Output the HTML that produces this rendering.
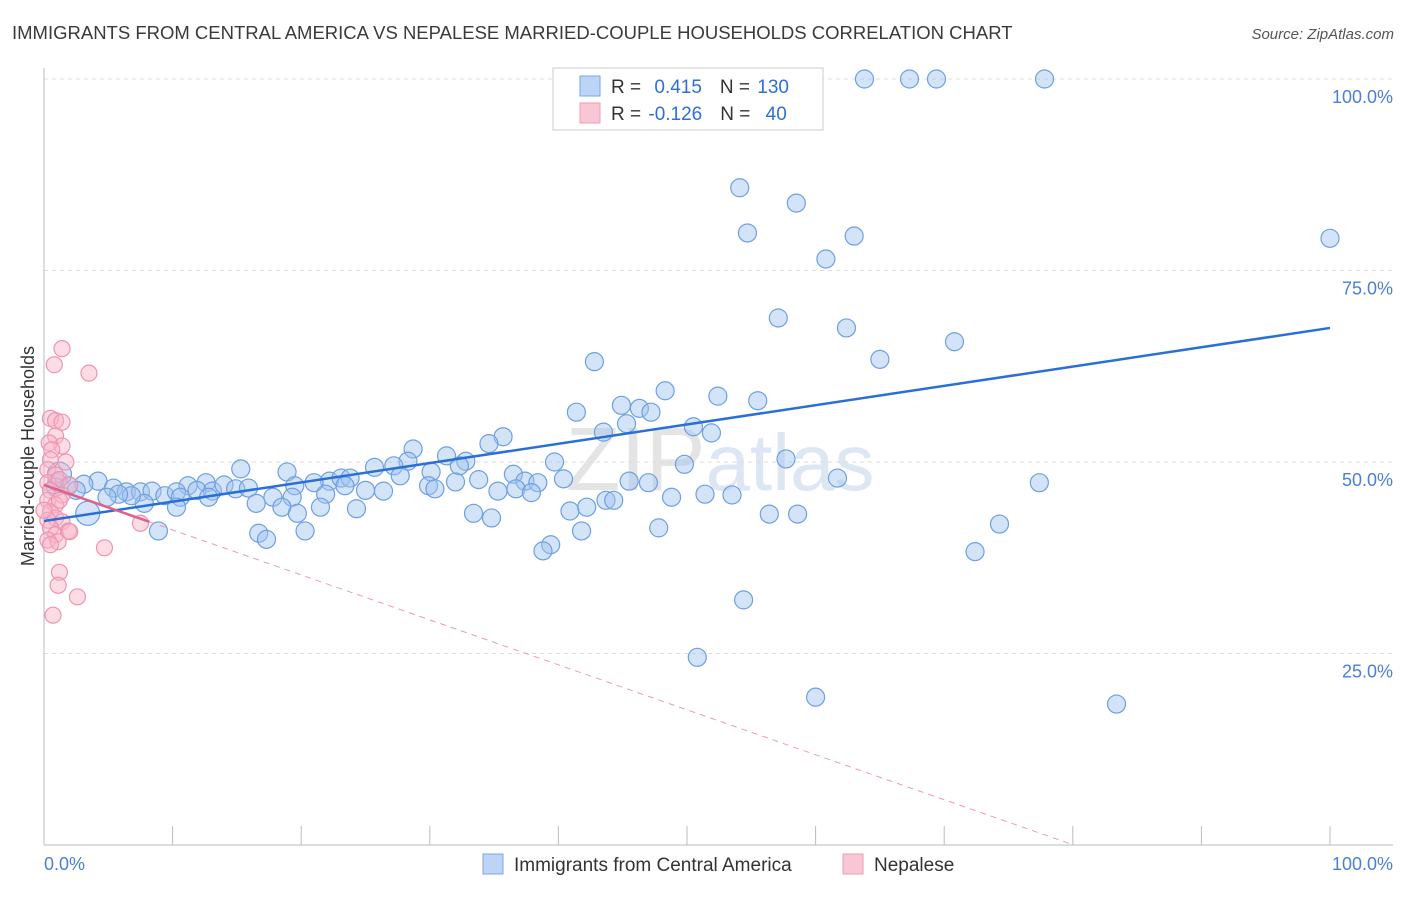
<!DOCTYPE html>
<html><head><meta charset="utf-8"><style>
body{margin:0;background:#fff;font-family:"Liberation Sans",sans-serif}
svg text{font-family:"Liberation Sans",sans-serif}
</style></head><body>
<svg id="chart" width="1406" height="892" viewBox="0 0 1406 892">
<text x="12" y="39" font-size="18.5" fill="#3a3a3a">IMMIGRANTS FROM CENTRAL AMERICA VS NEPALESE MARRIED-COUPLE HOUSEHOLDS CORRELATION CHART</text>
<text x="1394" y="39" font-size="15" fill="#555" font-style="italic" text-anchor="end">Source: ZipAtlas.com</text>
<text x="720" y="490" font-size="90" fill="#e4e4e4" text-anchor="middle" font-family="Liberation Serif">ZIP<tspan fill="#dde6f3" font-family="Liberation Sans" font-size="80">atlas</tspan></text>
<g id="grid"></g>
<g id="axes"></g>
<g id="pts"></g>
<g id="trend"></g>
<text transform="translate(34,456) rotate(-90)" font-size="18" fill="#333" text-anchor="middle">Married-couple Households</text>
<g>
<rect x="553" y="68" width="270" height="62" fill="#fff" stroke="#ccc"/>
<rect x="580" y="76" width="20" height="20" fill="#bcd4f6" stroke="#7aa6e8"/>
<rect x="580" y="103" width="20" height="20" fill="#f9c6d5" stroke="#ee9bb5"/>
<text x="611" y="93" font-size="19" fill="#333">R = <tspan fill="#2e6fd8" dx="8">0.415</tspan><tspan dx="18" fill="#333">N = </tspan><tspan fill="#2e6fd8" dx="2">130</tspan></text>
<text x="611" y="120" font-size="19" fill="#333">R = <tspan fill="#2e6fd8" dx="2">-0.126</tspan><tspan dx="18" fill="#333">N = </tspan><tspan fill="#2e6fd8" dx="10">40</tspan></text>
</g>
<g>
<rect x="483" y="854" width="20" height="20" fill="#bcd4f6" stroke="#7aa6e8"/>
<text x="514" y="871" font-size="19" fill="#333">Immigrants from Central America</text>
<rect x="843" y="854" width="20" height="20" fill="#f9c6d5" stroke="#ee9bb5"/>
<text x="874" y="871" font-size="19" fill="#333">Nepalese</text>
</g>
</svg>
<script>
const blueX=[63.8,67.3,69.4,77.8,54.1,58.5,54.7,63.0,60.8,100,57.1,62.4,70.8,65.0,42.8,48.3,52.4,55.5,41.4,44.9,46.3,47.2,45.3,43.5,50.5,51.9,35.7,34.6,28.7,31.3,28.3,32.8,39.7,57.7,49.8,32.3,15.3,18.9,25.7,27.2,30.1,36.5,37.4,38.4,45.5,47.0,61.7,77.4,33.8,27.7,22.2,23.1,23.8,23.4,21.0,19.5,25.0,26.4,29.9,30.4,32.0,36.7,35.3,37.9,40.4,12.6,11.2,4.2,3.1,1.9,1.0,1.2,0.9,2.5,5.4,6.4,7.5,8.4,9.4,10.3,11.9,13.1,14.0,14.9,15.9,16.5,17.8,19.3,21.9,12.8,10.6,7.8,6.8,5.8,4.9,3.4,10.3,18.5,19.7,21.5,24.3,33.4,34.8,40.9,42.2,43.7,44.3,48.8,51.4,53.5,56.4,58.6,8.9,16.7,17.3,20.3,41.8,47.8,39.4,38.8,74.3,72.4,54.4,50.8,60.0,83.4];
const blueY=[100,100,100,100,85.8,83.8,79.9,79.5,76.5,79.2,68.8,67.5,65.7,63.4,63.1,59.3,58.6,58.0,56.5,57.4,57.0,56.5,55.0,53.9,54.6,53.8,53.3,52.4,51.7,50.8,50.1,50.1,50.0,50.4,49.7,49.5,49.1,48.7,49.3,49.5,48.7,48.4,47.5,47.3,47.5,47.3,47.9,47.3,47.7,48.2,47.5,47.9,47.9,46.9,47.3,46.9,46.3,46.2,46.9,46.5,47.4,46.5,46.2,46.0,47.8,47.3,46.9,47.5,47.1,46.9,47.4,48.4,46.7,46.3,46.6,46.1,46.1,46.2,45.6,46.1,46.3,46.2,47.0,46.5,46.6,44.6,45.4,45.4,45.8,45.4,45.4,44.6,45.6,45.8,45.4,43.3,44.1,44.1,43.3,44.1,43.9,43.3,42.7,43.6,44.1,45.0,45.0,45.4,45.8,45.7,43.2,43.2,41.0,40.7,39.9,41.0,41.0,41.4,39.2,38.4,41.9,38.3,32.0,24.5,19.3,18.4];
const pinkX=[1.4,0.8,3.5,0.5,0.9,1.4,0.9,1.4,0.4,0.6,0.5,1.7,0.3,0.9,0.3,1.2,2.0,0.5,1.4,0.3,0.9,0.5,0.9,0.3,1.4,0.5,0.9,1.9,0.3,1.1,4.7,7.5,1.2,1.1,2.6,0.7,0.5,1.2,0.0,2.0];
const pinkY=[64.8,62.7,61.6,55.7,55.4,55.2,53.4,52.1,52.5,51.6,50.3,50.0,49.0,48.3,47.3,47.7,47.0,46.3,45.7,45.0,44.4,43.5,42.7,42.4,42.2,41.4,40.5,41.0,39.8,39.6,38.8,42.0,35.6,33.9,32.4,30.0,39.2,45.0,43.7,40.9];
const blueTrend=[42.3,67.5];
const pinkTrend=[47.0,-0.587];
const yTicks=[25,50,75,100];
const xTickVals=[0,10,20,30,40,50,60,70,80,90,100];

const NS="http://www.w3.org/2000/svg";
const X=v=>44+v*12.86, Y=v=>845-v*7.66;
function mk(tag,attrs,parent){const e=document.createElementNS(NS,tag);for(const k in attrs)e.setAttribute(k,attrs[k]);parent.appendChild(e);return e;}
const grid=document.getElementById('grid'),axes=document.getElementById('axes'),pts=document.getElementById('pts'),tr=document.getElementById('trend');
yTicks.forEach(t=>{
  const l=mk('line',{x1:44,x2:1393,y1:Y(t),y2:Y(t),stroke:'#ddd','stroke-dasharray':'4,4'},grid);
  
  
  const tx=mk('text',{x:1393,y:Y(t)+24,'font-size':18,fill:'#4a7fd6','text-anchor':'end'},grid);
  tx.textContent=t.toFixed(1)+'%';
  
  
});
const ya=mk('line',{x1:44,x2:44,y1:68,y2:845,stroke:'#bbb'},axes);


const xa=mk('line',{x1:44,x2:1393,y1:845,y2:845,stroke:'#bbb'},axes);


xTickVals.forEach(t=>{
  const l=mk('line',{x1:X(t),x2:X(t),y1:826,y2:845,stroke:'#bbb'},axes);
  
  
});
[[0,'start',44],[100,'end',1393]].forEach(([v,a,px])=>{
  const tx=mk('text',{x:px,y:870,'font-size':18,fill:'#4a7fd6','text-anchor':a},axes);
  tx.textContent=v.toFixed(1)+'%';
  
  
});
blueX.forEach((v,i)=>{
  const c=mk('circle',{cx:X(v),cy:Y(blueY[i]),r:(i==95||i==71)?12:9,fill:'rgba(160,195,240,0.45)',stroke:'#6d9fe3','stroke-width':1.2},pts);
  
  
});
pinkX.forEach((v,i)=>{
  const c=mk('circle',{cx:X(v),cy:Y(pinkY[i]),r:8,fill:'rgba(248,180,200,0.45)',stroke:'#ef94b0','stroke-width':1.2},pts);
  
  
});
const bl=mk('line',{x1:X(0),y1:Y(blueTrend[0]),x2:X(100),y2:Y(blueTrend[1]),stroke:'#2a6fd6','stroke-width':2.5},tr);


const pEnd=8.2, pZero=-pinkTrend[0]/pinkTrend[1];
const ps=mk('line',{x1:X(0),y1:Y(pinkTrend[0]),x2:X(pEnd),y2:Y(pinkTrend[0]+pinkTrend[1]*pEnd),stroke:'#e0608a','stroke-width':2.5},tr);


const pd=mk('line',{x1:X(pEnd),y1:Y(pinkTrend[0]+pinkTrend[1]*pEnd),x2:X(pZero),y2:Y(0),stroke:'#ec9ab4','stroke-width':1,'stroke-dasharray':'6,5'},tr);


</script>
</body></html>
